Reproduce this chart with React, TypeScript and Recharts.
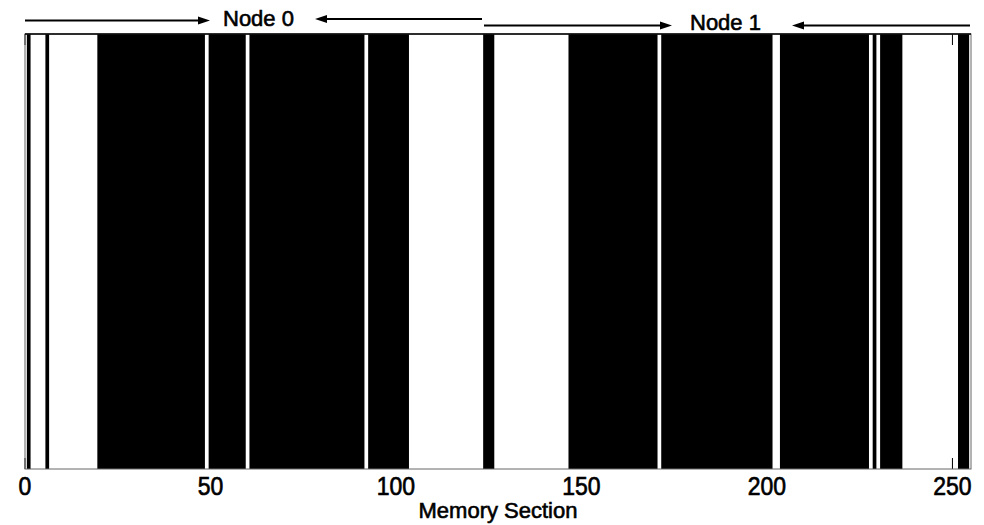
import { Area, AreaChart, XAxis, YAxis } from 'recharts';

// memory sections in use (inclusive runs of section indices)
const sectionCount = 256;
const usedRuns = [
  [1, 1],
  [6, 6],
  [20, 48],
  [50, 59],
  [61, 91],
  [93, 103],
  [124, 126],
  [147, 170],
  [172, 201],
  [204, 227],
  [229, 229],
  [231, 236],
  [252, 254],
];
const xTicks = [0, 50, 100, 150, 200, 250];

const nodeLabels = ['Node 0', 'Node 1'];

const data = Array.from({ length: sectionCount }, (_, i) => ({
  section: i,
  used: usedRuns.some(([a, b]) => i >= a && i <= b) ? 1 : 0,
}));

const W = 984;
const H = 525;
const PLOT_LEFT = 25;
const PLOT_RIGHT = 971;
const PLOT_TOP = 34;
const PLOT_BOTTOM = 469;
const AXIS_H = 30;
const FONT = '"Liberation Sans", Arial, Helvetica, sans-serif';
const textStyle = { stroke: '#000', strokeWidth: 0.6 };

const Tick = ({ x, payload }) => (
  <g>
    <line x1={x} x2={x} y1={PLOT_BOTTOM} y2={PLOT_BOTTOM - 11} stroke="#000" strokeWidth={1} />
    <line x1={x} x2={x} y1={PLOT_TOP} y2={PLOT_TOP + 11} stroke="#000" strokeWidth={1} />
    <g transform={`translate(${x},495) scale(1,1.12)`}>
      <text x={0} y={0} textAnchor="middle" fontSize={23} fontFamily={FONT} fill="#000" style={textStyle}>
        {payload.value}
      </text>
    </g>
  </g>
);

function Arrow({ x1, x2, y }) {
  // line from x1 to arrow tip at x2
  const dir = x2 > x1 ? 1 : -1;
  const head = 12;
  return (
    <g>
      <line x1={x1} y1={y} x2={x2 - dir * head + dir * 2} y2={y} stroke="#000" strokeWidth={2.2} />
      <polygon points={`${x2},${y} ${x2 - dir * head},${y - 4} ${x2 - dir * head},${y + 4}`} fill="#000" />
    </g>
  );
}

export default function App() {
  return (
    <div style={{ position: 'absolute', left: 0, top: 0, width: W, height: H, background: '#fff' }}>
      <AreaChart
        width={W}
        height={H}
        data={data}
        margin={{ top: PLOT_TOP, left: PLOT_LEFT, right: W - PLOT_RIGHT, bottom: H - PLOT_BOTTOM - AXIS_H }}
      >
        <XAxis
          dataKey="section"
          type="number"
          domain={[0, 255]}
          ticks={xTicks}
          height={AXIS_H}
          axisLine={false}
          tickLine={false}
          tick={Tick}
          interval={0}
        />
        <YAxis hide domain={[0, 1]} />
        <Area
          dataKey="used"
          type="step"
          stroke="none"
          fill="#000"
          fillOpacity={1}
          isAnimationActive={false}
          dot={false}
          activeDot={false}
        />
      </AreaChart>
      <svg width={W} height={H} style={{ position: 'absolute', left: 0, top: 0, pointerEvents: 'none' }}>
        <rect
          x={PLOT_LEFT}
          y={PLOT_TOP}
          width={PLOT_RIGHT - PLOT_LEFT}
          height={PLOT_BOTTOM - PLOT_TOP}
          fill="none"
          stroke="#666"
          strokeWidth={1}
        />
        <line x1={PLOT_LEFT} x2={PLOT_RIGHT} y1={PLOT_TOP} y2={PLOT_TOP} stroke="#000" strokeWidth={1.5} />
        <Arrow x1={25} x2={210} y={20.5} />
        <text x={223} y={26} fontSize={22} fontFamily={FONT} fill="#000" style={textStyle}>{nodeLabels[0]}</text>
        <Arrow x1={482} x2={315} y={19} />
        <Arrow x1={484} x2={672} y={25.5} />
        <text x={690} y={29.5} fontSize={22} fontFamily={FONT} fill="#000" style={textStyle}>{nodeLabels[1]}</text>
        <Arrow x1={970} x2={792} y={25.5} />
        <text x={498} y={518} textAnchor="middle" fontSize={22} fontFamily={FONT} fill="#000" style={textStyle}>
          Memory Section
        </text>
      </svg>
    </div>
  );
}
